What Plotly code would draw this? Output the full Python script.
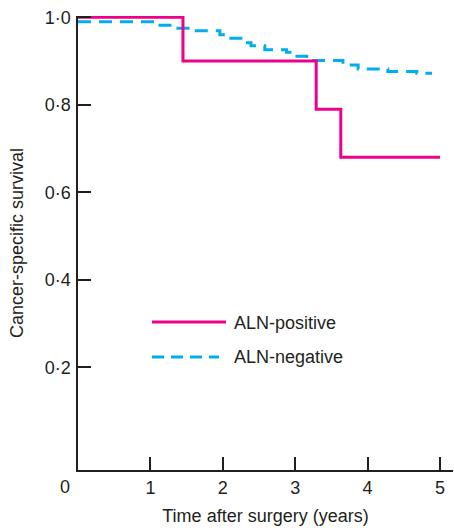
import plotly.graph_objects as go

# Kaplan-Meier step data
pos_time = [0, 1.45, 3.29, 3.63, 5.0]
pos_surv = [1.0, 0.90, 0.79, 0.68, 0.68]

neg_time = [0, 1.06, 1.38, 1.52, 1.96, 2.08, 2.30, 2.39, 2.58, 2.88, 2.99, 3.16,
            3.66, 3.87, 4.28, 4.68, 4.89]
neg_surv = [0.990, 0.982, 0.975, 0.969, 0.960, 0.952, 0.942, 0.935, 0.926, 0.920,
            0.911, 0.901, 0.891, 0.882, 0.876, 0.872, 0.872]

x_ticks = [0, 1, 2, 3, 4, 5]
x_labels = ["", "1", "2", "3", "4", "5"]
y_ticks = [-0.035, 0.2, 0.4, 0.6, 0.8, 1.0]
y_labels = ["", "0·2", "0·4", "0·6", "0·8", "1·0"]

series_names = ["ALN-positive", "ALN-negative"]
PINK = "#EC008C"
BLUE = "#00AEEF"
TXT = "#231F20"
FONT = "Liberation Sans, Arial, sans-serif"

fig = go.Figure()
fig.add_trace(go.Scatter(x=neg_time, y=neg_surv, mode="lines", line_shape="hv",
                         line=dict(color=BLUE, width=3, dash="13px,8px"),
                         name=series_names[1], showlegend=False))
fig.add_trace(go.Scatter(x=pos_time, y=pos_surv, mode="lines", line_shape="hv",
                         line=dict(color=PINK, width=3),
                         name=series_names[0], showlegend=False))

W, H = 454, 531
L, R, T, B = 78, 1, 16, 61
pw, ph = W - L - R, H - T - B


def px(xp):
    return (xp - L) / pw


def py(yp):
    return (H - B - yp) / ph


shapes = [
    dict(type="line", xref="paper", yref="paper", x0=px(152), x1=px(226),
         y0=py(322), y1=py(322), line=dict(color=PINK, width=3)),
    dict(type="line", xref="paper", yref="paper", x0=px(152), x1=px(219),
         y0=py(357), y1=py(357), line=dict(color=BLUE, width=3, dash="12px,7px")),
]
annotations = [
    dict(text=series_names[0], xref="paper", yref="paper", x=px(232), y=py(323),
         xanchor="left", yanchor="middle", showarrow=False,
         font=dict(size=18, color=TXT, family=FONT)),
    dict(text=series_names[1], xref="paper", yref="paper", x=px(232), y=py(357),
         xanchor="left", yanchor="middle", showarrow=False,
         font=dict(size=18, color=TXT, family=FONT)),
    dict(text="0", xref="paper", yref="paper", x=px(65), y=py(487),
         xanchor="center", yanchor="middle", showarrow=False,
         font=dict(size=18, color=TXT, family=FONT)),
]

fig.update_layout(
    width=W, height=H,
    margin=dict(l=L, r=R, t=T, b=B, pad=0, autoexpand=False),
    paper_bgcolor="white", plot_bgcolor="white",
    font=dict(family=FONT, size=18, color=TXT),
    shapes=shapes, annotations=annotations,
    showlegend=False,
)
fig.update_xaxes(range=[0, 5.18], tickvals=x_ticks, ticktext=x_labels,
                 automargin=False, ticklabelstandoff=1,
                 ticks="inside", ticklen=13, tickwidth=1.5, tickcolor=TXT,
                 showline=True, linecolor=TXT, linewidth=1.5,
                 showgrid=False, zeroline=False,
                 title=dict(text="Time after surgery (years)", standoff=12,
                            font=dict(size=18, color=TXT)),
                 tickfont=dict(size=18, color=TXT))
fig.update_yaxes(range=[-0.035, 1.003], tickvals=y_ticks, ticktext=y_labels,
                 automargin=False, ticklabelstandoff=2,
                 ticks="inside", ticklen=13, tickwidth=1.5, tickcolor=TXT,
                 showline=True, linecolor=TXT, linewidth=1.5,
                 showgrid=False, zeroline=False,
                 title=dict(text="Cancer-specific survival", standoff=16,
                            font=dict(size=18, color=TXT)),
                 tickfont=dict(size=18, color=TXT))

fig.write_html("out.html", config={"displayModeBar": False},
               post_script="document.body.style.margin='0';document.body.style.overflow='hidden';")
